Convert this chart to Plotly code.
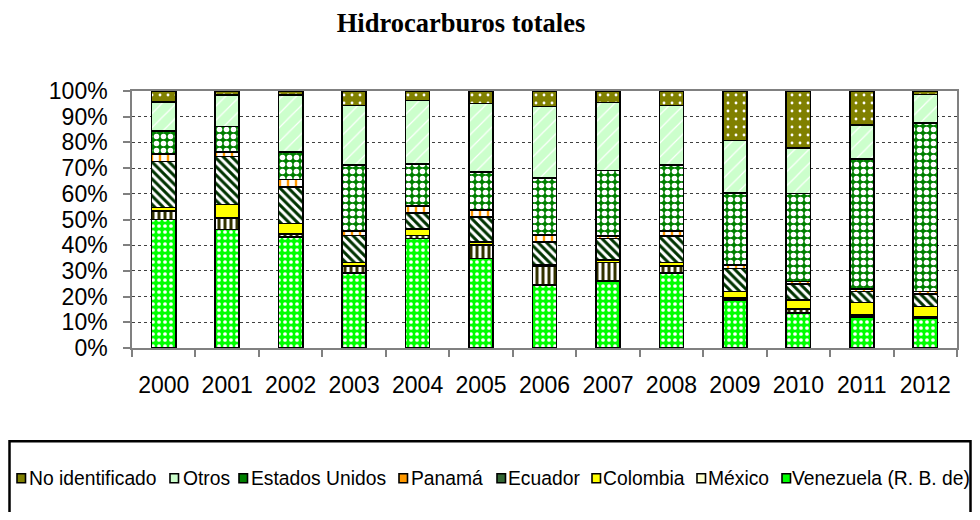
import plotly.graph_objects as go

years = ["2000", "2001", "2002", "2003", "2004", "2005", "2006",
         "2007", "2008", "2009", "2010", "2011", "2012"]

venezuela = [50.0, 46.1, 43.3, 29.3, 42.6, 34.9, 24.5, 26.1, 29.3, 18.7, 13.6, 12.0, 11.6]
mexico = [3.2, 4.5, 1.0, 2.6, 1.1, 5.2, 7.2, 7.1, 2.6, 0.7, 1.5, 0.9, 0.4]
colombia = [1.5, 5.3, 4.1, 1.4, 2.6, 1.1, 0.6, 1.0, 1.3, 2.6, 3.6, 4.8, 4.1]
ecuador = [17.8, 18.6, 14.3, 10.5, 6.3, 9.8, 9.0, 8.4, 10.3, 9.0, 6.2, 4.3, 4.8]
panama = [3.1, 1.7, 2.8, 1.8, 2.6, 2.6, 2.6, 0.9, 2.1, 1.3, 0.9, 0.9, 1.1]
estados_unidos = [8.8, 10.0, 10.7, 25.7, 16.5, 14.9, 22.2, 25.6, 25.5, 28.0, 34.3, 50.7, 65.5]
otros = [11.3, 12.2, 22.2, 23.0, 24.6, 26.7, 27.8, 26.5, 23.2, 20.4, 17.7, 13.2, 11.1]
no_identificado = [4.3, 1.6, 1.6, 5.7, 3.7, 4.8, 6.1, 4.4, 5.7, 19.3, 22.2, 13.2, 1.4]

series_names = ["Venezuela (R. B. de)", "México", "Colombia", "Ecuador",
                "Panamá", "Estados Unidos", "Otros", "No identificado"]
series_values = [venezuela, mexico, colombia, ecuador, panama,
                 estados_unidos, otros, no_identificado]

y_tick_vals = [0, 10, 20, 30, 40, 50, 60, 70, 80, 90, 100]
y_tick_text = ["0%", "10%", "20%", "30%", "40%", "50%", "60%", "70%", "80%", "90%", "100%"]

title_text = "<b>Hidrocarburos totales</b>"

# styles: (bg colour, pattern shape, fg colour, pattern size, solidity, legend icon colour)
styles = [
    ("#00FF00", ".", "#FFFFFF", 6, 0.3, "#00FF00"),
    ("#FFFFFF", "|", "#333300", 6, 0.5, "#FFFFCC"),
    ("#FFFF00", "", "#FFFF00", 6, 0.2, "#FFFF00"),
    ("#FFFFFF", "\\", "#003300", 6, 0.5, "#336633"),
    ("#FFFFFF", "|", "#FF9900", 8, 0.3, "#FF9900"),
    ("#008000", ".", "#FFFFFF", 7, 0.5, "#008000"),
    ("#CCFFCC", "/", "#FFFFFF", 10, 0.12, "#CCFFCC"),
    ("#808000", ".", "#FFFFFF", 8, 0.1, "#808000"),
]

fig = go.Figure()
for name, vals, st in zip(series_names, series_values, styles):
    bg, shape, fg, size, sol, _ = st
    pattern = dict(shape=shape, fgcolor=fg, bgcolor=bg, size=size, solidity=sol,
                   fillmode="replace")
    fig.add_trace(go.Bar(
        x=years, y=vals, name=name, showlegend=False,
        marker=dict(color=bg, pattern=pattern,
                    line=dict(color="#000000", width=1.6)),
    ))

# the page body has an 8px margin; positions below are page pixels
OFF = 8
W, H = 964, 504
L, T = 132 - OFF, 91 - OFF
R = W - (957 - OFF)
B = H - (348.5 - OFF)
PW = W - L - R
PH = H - T - B


def px_x(p):
    return (p - OFF - L) / PW


def px_y(p):
    return (H - B - (p - OFF)) / PH


# legend box
fig.add_shape(type="rect", xref="paper", yref="paper",
              x0=px_x(9.5), x1=px_x(970.5), y0=px_y(442), y1=px_y(560),
              line=dict(color="#000000", width=2.5), fillcolor="rgba(0,0,0,0)")

# custom legend (reversed order)
legend_icon_x = [17, 170, 239, 399, 497, 592, 697, 782]
legend_text_x = [27, 181, 249, 409, 506, 601, 706, 790]
legend_y = 479
for i, idx in enumerate(range(len(series_names) - 1, -1, -1)):
    ix = legend_icon_x[i]
    fig.add_shape(type="rect", xref="paper", yref="paper",
                  x0=px_x(ix), x1=px_x(ix + 8.5),
                  y0=px_y(legend_y - 4.5), y1=px_y(legend_y + 4.5),
                  line=dict(color="#000000", width=1.6),
                  fillcolor=styles[idx][5])
    fig.add_annotation(xref="paper", yref="paper", x=px_x(legend_text_x[i]),
                       y=px_y(legend_y), xanchor="left", yanchor="middle",
                       text=series_names[idx], showarrow=False,
                       font=dict(family="Liberation Sans", size=19.3, color="#000000"))

fig.update_layout(
    width=W, height=H,
    margin=dict(l=L, r=R, t=T, b=B),
    barmode="stack",
    bargap=0.62,
    plot_bgcolor="#FFFFFF",
    paper_bgcolor="#FFFFFF",
    font=dict(family="Liberation Sans", size=23, color="#000000"),
    title=dict(text=title_text, x=(461 - OFF) / W, xanchor="center",
               y=1 - (23 - OFF) / H, yanchor="middle", yref="container",
               font=dict(family="Liberation Serif", size=26.5, color="#000000")),
    showlegend=False,
)

fig.update_xaxes(
    type="category", showline=True, linecolor="#808080", linewidth=1.5,
    mirror=True, ticks="outside", tickson="boundaries", ticklen=7,
    tickcolor="#808080", tickwidth=1.5, showgrid=False,
    ticklabelstandoff=16,
    tickfont=dict(family="Liberation Sans", size=23, color="#000000"),
)
fig.update_yaxes(
    range=[0, 100], tickvals=y_tick_vals, ticktext=y_tick_text,
    showline=True, linecolor="#808080", linewidth=1.5, mirror=True,
    ticks="outside", ticklen=7, tickcolor="#808080", tickwidth=1.5,
    showgrid=True, gridcolor="#404040", gridwidth=1, griddash="dot",
    zeroline=False, ticklabelstandoff=11,
    tickfont=dict(family="Liberation Sans", size=23, color="#000000"),
)

fig.write_html("out.html")
